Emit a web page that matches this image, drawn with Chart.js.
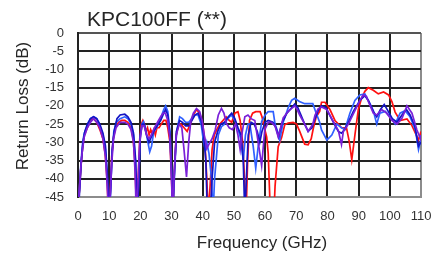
<!DOCTYPE html>
<html>
<head>
<meta charset="utf-8">
<script src="https://cdn.jsdelivr.net/npm/chart.js@4"></script>
<style>
html, body { margin: 0; padding: 0; background: #fff; }
</style>
</head>
<body>
<canvas id="chart" width="431" height="253"></canvas>
<script>
const chartTitle = 'KPC100FF (**)';
const xTitle = 'Frequency (GHz)';
const yTitle = 'Return Loss (dB)';
const xTicks = [0, 10, 20, 30, 40, 50, 60, 70, 80, 90, 100, 110];
const yTicks = [0, -5, -10, -15, -20, -25, -30, -35, -40, -45];

// [GHz, dB]; dips below -45 run off the plot
const redCurve = [[0,-50],[0.3,-45],[1,-36],[1.5,-31],[2,-28],[3,-26],[4,-24],[5,-23.5],[6,-24.5],[7,-26.5],[8,-29],[8.7,-33],[9.3,-40],[9.8,-50],[10.3,-45],[10.8,-34],[11.3,-29],[12,-26],[13,-24.5],[14,-24],[15,-24],[16,-24.5],[17,-26],[17.7,-29],[18.3,-36],[18.8,-50],[19.3,-40],[19.8,-29],[20.3,-25],[20.8,-24],[21.3,-25],[21.8,-27],[22.3,-26],[22.8,-28],[23.3,-26.5],[23.8,-27.5],[24.3,-26.5],[24.8,-28],[25.3,-26],[26,-26],[26.7,-25],[27.5,-24],[28.2,-24],[28.8,-26],[29.5,-30],[30,-40],[30.4,-50],[30.9,-38],[31.5,-28],[32.3,-25],[33,-25],[34,-26],[35,-27],[36,-25],[37,-22.5],[38,-21],[39,-22],[40,-25],[40.7,-30],[41.3,-40],[41.8,-50],[42.5,-40],[43,-32],[43.7,-28],[44.5,-26.5],[45.5,-25],[46.5,-24],[47.5,-23],[48.5,-24],[49.3,-24.5],[50.3,-22],[51.3,-21.6],[52,-24],[52.8,-30],[53.4,-40],[53.9,-50],[54.4,-35],[55,-24],[56,-22],[57,-21.6],[58.4,-21.6],[59,-23],[59.5,-25],[60.5,-28.5],[61,-33],[61.5,-45],[61.8,-50],[62.8,-50],[63.2,-42],[64.2,-31.2],[65.3,-28.7],[66.3,-25.2],[67.4,-24.7],[69,-24.5],[70.1,-25],[71.1,-27],[72.7,-30.5],[73.8,-30.7],[74.8,-29],[75.5,-26],[76.4,-23],[77.5,-21.5],[78.1,-19],[79.2,-19],[80.8,-21],[82.4,-24],[83.5,-25],[84.5,-26],[86.1,-26],[87,-29.8],[87.8,-34.8],[88.8,-28],[89.9,-21],[90.9,-18],[92,-16],[93.1,-15],[94.7,-15.7],[96.3,-16.7],[98,-16.2],[99.6,-17],[100.7,-18.9],[101.7,-21.7],[103.3,-24],[105.5,-23.6],[107.1,-25.4],[108.5,-28],[109.2,-29.4],[110,-27]];

const blueCurve = [[0,-50],[0.3,-45],[1,-35],[1.5,-30],[2,-27.5],[3,-25.5],[4,-23.5],[5,-23],[6,-23.5],[7,-25.5],[8,-28],[8.8,-32],[9.4,-40],[9.9,-50],[10.4,-45],[10.9,-33],[11.5,-27],[12.3,-24.5],[13.5,-23.5],[15,-23],[16,-23.5],[17,-25],[17.8,-28],[18.4,-35],[18.9,-50],[19.4,-42],[19.9,-29],[20.5,-25],[21,-24.3],[21.6,-26],[22.2,-29],[23,-32.6],[23.6,-31],[24.3,-27],[25.4,-25.7],[26.5,-23.4],[27.5,-21],[28.1,-20],[28.8,-21.5],[29.5,-27],[30,-38],[30.3,-50],[30.9,-40],[31.6,-27],[32.6,-23],[33.5,-23.5],[34.5,-24.5],[35.5,-24.5],[36.5,-23.5],[37.5,-22.5],[38.5,-22.5],[39.5,-25],[40.2,-29.5],[40.8,-32],[41.3,-30],[42,-33],[42.8,-40],[43.3,-50],[43.8,-40],[44.3,-35],[45,-28],[46,-25.7],[47,-25],[48,-23.5],[49.2,-22.5],[50.3,-24],[51.2,-26],[52.2,-29],[53,-35],[53.7,-28],[54.5,-25],[55.1,-24.9],[56.2,-31.2],[57,-37.1],[57.8,-31],[58.9,-24.3],[60,-22.5],[61,-21.6],[62.6,-21.6],[63.2,-25],[64.2,-27.5],[64.7,-29.4],[65.8,-24.5],[67.4,-20.5],[68.5,-18.5],[69.5,-17.9],[71,-18.8],[72.7,-19.4],[75.3,-19.4],[76.4,-22],[77.5,-24.5],[78.1,-26.6],[79.8,-29.4],[81.4,-28],[83,-25],[84.5,-26],[85.6,-26.5],[87.2,-22],[88.8,-18.5],[90.4,-17],[92,-16.7],[93.1,-18.5],[94.7,-21.3],[95.8,-25],[96.8,-22],[98.5,-21.5],[100.1,-23],[101.7,-25],[103.3,-22],[104.9,-21.3],[106.5,-23],[108.2,-26.6],[109.2,-32],[110,-29]];

const navyCurve = [[0,-50],[0.4,-45],[1,-36],[1.6,-30],[2.2,-27],[3,-25],[4,-23.5],[5,-23],[6,-23.5],[7,-25],[8,-27.5],[8.8,-31],[9.5,-40],[10,-50],[10.5,-42],[11,-32],[11.6,-27],[12.5,-23.5],[13.5,-22.5],[15,-22.3],[16,-23],[17,-24.5],[17.8,-27.5],[18.5,-35],[19,-50],[19.5,-40],[20,-28],[20.6,-25],[21.2,-25],[22,-28],[22.8,-30],[23.5,-28.5],[24.3,-27],[25.3,-25.5],[26.5,-24],[27.5,-22],[28.1,-21],[28.8,-22.5],[29.5,-28],[30,-38],[30.4,-50],[30.9,-38],[31.6,-27],[32.6,-24],[33.5,-24.5],[34.5,-25.5],[35.5,-25.5],[36.5,-24],[37.5,-22.5],[38.5,-22],[39.5,-24],[40.3,-28],[41,-35],[41.5,-50],[42.4,-50],[43,-40],[43.8,-30],[44.8,-27],[45.8,-25],[47,-24.5],[48.2,-23],[49.3,-22],[50.3,-23.5],[51.3,-26],[52.3,-28],[53,-35],[53.5,-50],[54,-40],[54.6,-28],[55.5,-24.5],[56.5,-25],[57.5,-27],[58.3,-30],[59,-27],[60,-24.5],[61,-24],[62.5,-24.5],[63.5,-26],[64.3,-28.5],[65.5,-24.5],[67,-22],[68.5,-20.5],[69.5,-19.5],[70.5,-20.5],[71.5,-22.5],[72.7,-25],[73.8,-27],[75,-26],[76,-23.5],[77.2,-21],[78.1,-20],[79.5,-20.5],[81,-23],[82.5,-25.5],[83.5,-27],[84.5,-27.5],[85.5,-26.5],[86.7,-24.5],[88.3,-21.5],[90.4,-18.5],[92,-17.2],[93.1,-18.5],[94.7,-21.5],[95.8,-23],[97,-21],[98.2,-19.6],[99.5,-21.5],[100.8,-23.5],[102.3,-24.5],[103.9,-22.5],[105.3,-21],[106.5,-22.5],[108,-25.5],[109.2,-31],[110,-30]];

const purpleCurve = [[0,-50],[0.3,-45],[0.8,-38],[1.3,-33],[2,-28.5],[3,-26],[4,-24.5],[5,-23.5],[6,-24.5],[7,-26],[8,-29],[8.8,-34],[9.4,-42],[9.8,-50],[10.3,-45],[10.8,-36],[11.4,-29],[12.2,-26],[13.5,-24.5],[15,-24.5],[16,-25],[17,-26.5],[17.8,-30],[18.3,-38],[18.7,-50],[19.2,-42],[19.8,-30],[20.5,-25.5],[21.2,-25.5],[22,-28],[22.8,-29],[23.5,-28],[24.5,-26],[25.5,-24.5],[26.5,-23],[27.3,-22],[28,-22],[28.8,-24],[29.5,-29],[30,-40],[30.3,-50],[30.8,-40],[31.5,-28],[32.5,-25],[33.3,-26],[34,-32],[34.8,-39.5],[35.5,-30],[36.2,-24],[37,-22],[38,-20.7],[39,-21.5],[39.8,-24],[40.5,-28],[41.3,-31.7],[42,-30.5],[43,-29],[44,-26.6],[45,-22.5],[46,-20.7],[46.8,-22],[47.6,-24.8],[48.5,-26],[49.5,-26.5],[50.5,-25],[51.3,-28],[52,-32],[52.7,-27],[53.5,-23],[54.5,-22.5],[55.5,-23.5],[56.7,-24],[57.8,-30],[58.9,-36.4],[59.9,-26.5],[61,-24.5],[62,-24.5],[63.2,-25.5],[64.2,-28.5],[65.8,-23.3],[67.4,-21.5],[69.5,-20],[70.3,-21],[71.1,-22.5],[72.7,-25],[73.8,-27],[75.3,-25],[76,-22.6],[77,-20.8],[78.1,-20.3],[79.8,-21],[81.9,-24.3],[83.5,-26.8],[84.5,-30.6],[85.1,-27],[86.7,-25],[88.3,-22.2],[90.4,-18.5],[91.5,-17],[92.5,-17.4],[93.1,-18.8],[94.7,-22],[95.8,-22.5],[97.4,-21],[99,-22],[100.7,-24],[102.3,-25],[103.9,-23.4],[105.5,-20],[107.1,-22],[108.7,-26.6],[109.8,-29],[110,-28]];

const FONT = '"Liberation Sans", Arial, sans-serif';
const TEXT = '#262626';

function toPoints(curve) {
  return curve.map(p => ({x: p[0], y: p[1]}));
}

// titles placed where the reference has them (not centred on the plot)
const textPlugin = {
  id: 'texts',
  afterDraw(c) {
    const ctx = c.ctx;
    ctx.save();
    ctx.fillStyle = TEXT;
    ctx.textBaseline = 'alphabetic';
    ctx.font = '21px ' + FONT;
    ctx.textAlign = 'left';
    ctx.fillText(chartTitle, 87, 26);
    ctx.font = '17px ' + FONT;
    ctx.textAlign = 'center';
    ctx.fillText(xTitle, 262, 248);
    ctx.translate(28, 106);
    ctx.rotate(-Math.PI / 2);
    ctx.fillText(yTitle, 0, 0);
    ctx.restore();
  }
};

const ctx = document.getElementById('chart').getContext('2d');
const chart = new Chart(ctx, {
  type: 'line',
  data: {
    datasets: [
      {label: 'purple', data: toPoints(purpleCurve), borderColor: '#7a20d8'},
      {label: 'navy', data: toPoints(navyCurve), borderColor: '#1414c4'},
      {label: 'blue', data: toPoints(blueCurve), borderColor: '#3060ff'},
      {label: 'red', data: toPoints(redCurve), borderColor: '#ff1010'}
    ]
  },
  options: {
    responsive: false,
    animation: false,
    layout: {padding: {left: 0, right: 0, top: 33, bottom: 0}},
    elements: {
      point: {radius: 0},
      line: {borderWidth: 1.7, tension: 0, fill: false}
    },
    plugins: {
      legend: {display: false},
      tooltip: {enabled: false},
      title: {display: false}
    },
    scales: {
      x: {
        type: 'linear',
        min: 0,
        max: 110,
        afterFit: s => { s.height = 56; s.paddingRight = 10; s.paddingLeft = 0; },
        afterBuildTicks: s => { s.ticks = xTicks.map(v => ({value: v})); },
        grid: {
          color: c => (c.tick && c.tick.value === 110) ? '#8c8c8c' : '#222',
          lineWidth: 2,
          drawTicks: false
        },
        border: {color: '#8c8c8c', width: 2},
        ticks: {padding: 12, color: '#333', font: {family: FONT, size: 13}, maxRotation: 0, autoSkip: false}
      },
      y: {
        min: -45,
        max: 0,
        afterFit: s => { s.width = 78; s.paddingTop = 0; s.paddingBottom = 0; },
        afterBuildTicks: s => { s.ticks = yTicks.map(v => ({value: v})); },
        grid: {
          color: c => (c.tick && c.tick.value === 0) ? '#555' : '#222',
          lineWidth: 2,
          drawTicks: false
        },
        border: {color: '#222', width: 2},
        ticks: {padding: 14, color: '#333', font: {family: FONT, size: 13}, autoSkip: false}
      }
    }
  },
  plugins: [textPlugin]
});
</script>
</body>
</html>
